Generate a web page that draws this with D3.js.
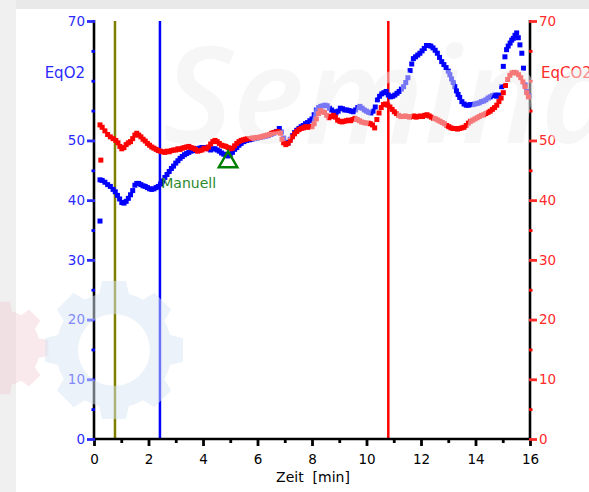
<!DOCTYPE html>
<html>
<head>
<meta charset="utf-8">
<script src="https://cdn.jsdelivr.net/npm/d3@7"></script>
<style>
  body { margin: 0; background: #fff; }
  svg { display: block; }
</style>
</head>
<body>
<svg id="chart" width="589" height="492"></svg>
<script>
// EqO2 readings: [time in min, value]
const eqO2 = [
  [0.22,36.5],
  [0.22,43.4],[0.30,43.3],[0.40,43.0],[0.50,42.6],[0.60,42.3],[0.70,41.8],[0.78,41.4],[0.86,40.8],[0.94,40.2],
  [1.02,39.6],[1.10,39.5],[1.18,39.8],[1.26,40.3],[1.34,40.9],[1.42,41.6],[1.50,42.5],[1.57,42.8],[1.64,42.8],
  [1.72,42.6],[1.80,42.4],[1.88,42.3],[1.96,42.1],[2.04,41.9],[2.12,41.8],[2.20,41.9],[2.28,42.1],[2.36,42.3],
  [2.44,42.7],[2.52,43.2],[2.60,43.8],[2.68,44.3],[2.76,44.8],[2.84,45.3],[2.92,45.7],[3.00,46.2],[3.08,46.6],
  [3.16,47.0],[3.24,47.3],[3.32,47.6],[3.40,47.8],[3.48,48.0],[3.56,48.2],[3.64,48.3],[3.72,48.5],[3.80,48.6],
  [3.88,48.7],[3.96,48.8],[4.04,48.8],[4.12,48.7],[4.20,48.6],[4.28,48.4],[4.36,48.6],[4.44,48.6],[4.52,48.4],
  [4.60,48.2],[4.68,47.9],[4.76,47.7],[4.84,47.5],[4.92,47.4],[5.00,47.6],[5.08,48.0],[5.16,48.5],[5.24,48.8],
  [5.32,49.2],[5.40,49.5],[5.50,49.8],[5.60,50.0],[5.70,50.1],[5.80,50.2],[5.90,50.3],[6.00,50.4],[6.10,50.5],
  [6.20,50.6],[6.30,50.7],[6.40,50.8],[6.50,51.0],[6.60,51.2],[6.70,51.5],[6.80,52.0],[6.88,51.4],[6.96,50.4],
  [7.04,49.7],[7.12,49.6],[7.20,50.2],[7.28,50.8],[7.36,51.3],[7.44,51.7],[7.52,52.0],[7.60,52.3],[7.68,52.5],
  [7.76,52.8],[7.84,53.0],[7.92,53.3],[8.00,53.6],[8.08,54.3],[8.16,55.1],[8.24,55.5],[8.32,55.7],[8.40,55.8],
  [8.48,55.9],[8.56,55.8],[8.64,55.4],[8.72,55.1],[8.80,54.8],[8.88,54.6],[8.96,54.9],[9.04,55.4],[9.12,55.3],
  [9.20,55.1],[9.28,55.1],[9.36,55.0],[9.44,54.9],[9.52,54.8],[9.60,55.1],[9.68,55.5],[9.76,55.7],[9.84,55.4],
  [9.92,55.1],[10.00,54.9],[10.08,54.7],[10.16,54.6],[10.24,54.9],[10.32,55.6],[10.40,56.8],[10.48,57.4],
  [10.56,57.8],[10.64,58.0],[10.72,58.2],[10.80,57.6],[10.88,57.3],[10.96,57.4],[11.04,57.6],[11.12,57.9],
  [11.20,58.2],[11.28,58.6],[11.36,59.0],[11.44,59.7],[11.52,60.5],[11.60,61.7],[11.66,62.8],[11.72,63.7],
  [11.80,64.0],[11.88,64.3],[11.96,64.6],[12.04,65.0],[12.12,65.4],[12.20,65.9],[12.28,65.9],[12.36,65.8],
  [12.44,65.5],[12.52,65.1],[12.60,64.6],[12.68,63.9],[12.76,63.2],[12.84,62.7],[12.92,62.2],[13.00,61.6],
  [13.06,61.0],[13.12,60.3],[13.18,59.7],[13.24,59.0],[13.30,58.3],[13.36,57.7],[13.42,57.2],[13.50,56.5],
  [13.58,56.1],[13.66,55.9],[13.74,55.9],[13.82,56.0],[13.90,56.0],[13.98,56.1],[14.06,56.2],[14.14,56.3],
  [14.22,56.5],[14.30,56.6],[14.38,56.8],[14.46,57.1],[14.54,57.3],[14.62,57.5],[14.70,57.6],[14.78,57.4],
  [14.86,57.6],[14.96,59.0],[15.02,62.4],[15.08,64.0],[15.14,65.2],[15.20,65.8],[15.27,66.3],[15.33,66.8],
  [15.39,67.1],[15.45,67.6],[15.51,68.0],[15.57,67.2],[15.63,66.0],[15.70,64.6],[15.76,62.1],[15.82,59.3],
  [15.88,58.2],[15.96,57.5]
];

// EqCO2 readings: [time in min, value]
const eqCO2 = [
  [0.25,46.7],
  [0.22,52.6],[0.30,52.2],[0.40,51.6],[0.50,51.0],[0.60,50.6],[0.70,50.3],[0.80,50.0],[0.88,49.6],[0.95,49.0],
  [1.02,48.6],[1.10,48.8],[1.18,49.3],[1.26,49.6],[1.34,49.8],[1.42,50.3],[1.50,50.9],[1.57,51.2],[1.64,50.9],
  [1.72,50.6],[1.80,50.2],[1.88,49.9],[1.96,49.5],[2.04,49.2],[2.12,48.9],[2.20,48.7],[2.28,48.5],[2.36,48.3],
  [2.44,48.2],[2.52,48.1],[2.60,48.0],[2.68,48.2],[2.76,48.1],[2.84,48.3],[2.92,48.4],[3.00,48.4],[3.08,48.6],
  [3.16,48.5],[3.24,48.7],[3.32,48.8],[3.40,48.9],[3.48,49.0],[3.56,48.8],[3.64,48.7],[3.72,48.5],[3.80,48.2],
  [3.88,48.3],[3.96,48.4],[4.04,48.7],[4.12,48.6],[4.20,48.9],[4.28,49.4],[4.36,49.8],[4.44,50.0],[4.52,49.8],
  [4.60,49.5],[4.68,49.2],[4.76,49.1],[4.84,49.0],[4.92,48.8],[5.00,48.6],[5.08,48.7],[5.16,49.1],[5.24,49.5],
  [5.32,49.8],[5.40,50.0],[5.48,50.1],[5.56,50.2],[5.64,50.3],[5.72,50.3],[5.80,50.4],[5.88,50.4],[5.96,50.5],
  [6.04,50.5],[6.12,50.6],[6.20,50.7],[6.28,50.8],[6.36,50.9],[6.44,51.0],[6.52,51.2],[6.60,51.3],[6.68,51.4],
  [6.76,51.5],[6.84,51.2],[6.90,50.2],[6.96,49.6],[7.04,49.3],[7.12,49.5],[7.20,50.0],[7.28,50.6],[7.36,51.1],
  [7.44,51.5],[7.52,51.8],[7.60,52.0],[7.68,52.1],[7.76,52.3],[7.84,52.2],[7.92,52.3],[8.00,52.3],[8.08,52.8],
  [8.16,53.6],[8.24,54.5],[8.30,55.0],[8.38,54.8],[8.46,54.7],[8.54,54.2],[8.62,53.8],[8.70,54.0],[8.78,54.2],
  [8.86,53.9],[8.94,53.4],[9.02,53.2],[9.10,53.1],[9.18,53.2],[9.26,53.3],[9.34,53.4],[9.42,53.3],[9.50,53.5],
  [9.58,53.7],[9.66,53.5],[9.74,53.3],[9.82,53.1],[9.90,53.0],[9.98,52.9],[10.06,52.9],[10.14,52.8],[10.22,52.6],
  [10.30,52.1],[10.38,53.5],[10.46,54.6],[10.54,55.5],[10.62,56.0],[10.70,56.1],[10.78,55.9],[10.86,55.6],
  [10.94,55.2],[11.02,54.8],[11.10,54.5],[11.18,54.2],[11.26,54.0],[11.34,54.0],[11.42,54.1],[11.50,54.0],
  [11.58,53.9],[11.66,54.0],[11.74,54.1],[11.82,53.9],[11.90,54.0],[11.98,54.1],[12.06,54.0],[12.14,54.2],
  [12.22,54.3],[12.30,54.1],[12.38,53.9],[12.46,53.7],[12.54,53.6],[12.62,53.4],[12.70,53.2],[12.78,53.0],
  [12.86,52.8],[12.94,52.5],[13.02,52.3],[13.10,52.1],[13.18,52.0],[13.26,52.0],[13.34,51.9],[13.42,52.0],
  [13.50,52.1],[13.58,52.2],[13.66,52.5],[13.74,52.9],[13.82,53.2],[13.90,53.4],[13.98,53.6],[14.06,53.8],
  [14.14,54.0],[14.22,54.2],[14.30,54.3],[14.38,54.5],[14.46,54.7],[14.54,54.9],[14.62,55.2],[14.70,55.5],
  [14.78,55.9],[14.86,56.5],[14.94,57.1],[15.02,58.0],[15.10,59.2],[15.18,60.2],[15.26,60.9],[15.34,61.3],
  [15.42,61.4],[15.50,61.3],[15.58,61.0],[15.66,60.5],[15.74,59.8],[15.82,59.0],[15.88,58.0],[15.94,57.3]
];

const xMajorTicks = [0, 2, 4, 6, 8, 10, 12, 14, 16];
const xMinorTicks = [1, 3, 5, 7, 9, 11, 13, 15];
const yMajorTicks = [0, 10, 20, 30, 40, 50, 70];
const yMinorTicks = [5, 15, 25, 35, 45, 55, 60, 65];

// phase markers (time in min)
const phaseTimes = [0.77, 2.42, 10.8];
const phaseColors = ["#808000", "#0000ff", "#ff0000"];

// manual event marker
const manualTime = 4.92;
const manualValue = 46.4;
const manualLabel = "Manuell";

const svg = d3.select("#chart");
const W = 589, H = 492;
const FONT = "'DejaVu Sans', Verdana, sans-serif";

const x = d3.scaleLinear().domain([0, 16]).range([94, 530]);
const y = d3.scaleLinear().domain([0, 70]).range([439, 21]);

// page background with light frame strips
svg.append("rect").attr("width", W).attr("height", H).attr("fill", "#ffffff");
svg.append("rect").attr("width", W).attr("height", 9).attr("fill", "#e9e9e9");
svg.append("rect").attr("width", 16).attr("height", H).attr("fill", "#f0f0f0");

// phase marker lines
svg.append("g").selectAll("line").data(phaseTimes).join("line")
  .attr("x1", d => x(d)).attr("x2", d => x(d))
  .attr("y1", y(70)).attr("y2", y(0))
  .attr("stroke", (d, i) => phaseColors[i])
  .attr("stroke-width", 2.5);

// axis frame lines
const frame = svg.append("g").attr("stroke", "#000").attr("stroke-width", 2.6);
frame.append("line").attr("x1", x(0)).attr("x2", x(0)).attr("y1", y(70) - 1).attr("y2", y(0) + 1);
frame.append("line").attr("x1", x(16)).attr("x2", x(16)).attr("y1", y(70) - 1).attr("y2", y(0) + 1);
frame.append("line").attr("x1", x(0) - 1).attr("x2", x(16) + 1).attr("y1", y(0)).attr("y2", y(0));

function styleAxis(g, color, size) {
  g.select(".domain").remove();
  g.selectAll(".tick line").attr("stroke", color).attr("stroke-width", 2.8);
  g.selectAll(".tick text").attr("fill", color)
    .attr("font-family", FONT).attr("font-size", size);
}

// x axis
svg.append("g").attr("transform", `translate(0,${y(0)})`)
  .call(d3.axisBottom(x).tickValues(xMinorTicks).tickSize(4).tickFormat(""))
  .call(g => styleAxis(g, "#000", 13.5));
svg.append("g").attr("transform", `translate(0,${y(0)})`)
  .call(d3.axisBottom(x).tickValues(xMajorTicks).tickSize(7).tickPadding(8).tickFormat(d3.format("d")))
  .call(g => styleAxis(g, "#000", 13.5));

// left axis (EqO2)
svg.append("g").attr("transform", `translate(${x(0) + 1},0)`)
  .call(d3.axisLeft(y).tickValues(yMinorTicks).tickSize(3.5).tickFormat(""))
  .call(g => styleAxis(g, "#0000ff", 13.5));
svg.append("g").attr("transform", `translate(${x(0) + 1},0)`)
  .call(d3.axisLeft(y).tickValues(yMajorTicks).tickSize(8).tickPadding(2).tickFormat(d3.format("d")))
  .call(g => styleAxis(g, "#2a2aff", 13.5));

// right axis (EqCO2)
svg.append("g").attr("transform", `translate(${x(16) - 1},0)`)
  .call(d3.axisRight(y).tickValues(yMinorTicks).tickSize(3.5).tickFormat(""))
  .call(g => styleAxis(g, "#ff0000", 13.5));
svg.append("g").attr("transform", `translate(${x(16) - 1},0)`)
  .call(d3.axisRight(y).tickValues(yMajorTicks).tickSize(8).tickPadding(2).tickFormat(d3.format("d")))
  .call(g => styleAxis(g, "#ff2a2a", 13.5));

// axis titles
svg.append("text").attr("x", 85).attr("y", 78).attr("text-anchor", "end")
  .attr("font-family", FONT).attr("font-size", 15).attr("fill", "#2a2aff").text("EqO2");
svg.append("text").attr("x", 541).attr("y", 78).attr("text-anchor", "start")
  .attr("font-family", FONT).attr("font-size", 15).attr("fill", "#ff2a2a").text("EqCO2");
svg.append("text").attr("x", (x(0) + x(16)) / 2 + 1).attr("y", 482).attr("text-anchor", "middle")
  .attr("font-family", FONT).attr("font-size", 14).attr("fill", "#000")
  .text("Zeit\u00a0 [min]");

// data points
const S = 5;
svg.append("g").selectAll("rect").data(eqO2).join("rect")
  .attr("x", d => x(d[0]) - S / 2).attr("y", d => y(d[1]) - S / 2)
  .attr("width", S).attr("height", S).attr("fill", "#0000ff");
svg.append("g").selectAll("rect").data(eqCO2).join("rect")
  .attr("x", d => x(d[0]) - S / 2).attr("y", d => y(d[1]) - S / 2)
  .attr("width", S).attr("height", S).attr("fill", "#ff0000");

// manual event marker
svg.append("path")
  .attr("d", d3.symbol(d3.symbolTriangle).size(150)())
  .attr("transform", `translate(${x(manualTime)},${y(manualValue)})`)
  .attr("fill", "none").attr("stroke", "#008000").attr("stroke-width", 2.4);
svg.append("text")
  .attr("x", x(manualTime) - 12).attr("y", y(manualValue) + 26)
  .attr("text-anchor", "end").attr("font-family", FONT).attr("font-size", 14)
  .attr("fill", "#2d8a2d").text(manualLabel);

// light watermark overlay: gears and lettering
function gearPath(cx, cy, rOut, rBody, teeth, rHole) {
  const p = d3.path();
  const step = 2 * Math.PI / teeth;
  const pt = (r, a) => [cx + r * Math.sin(a), cy - r * Math.cos(a)];
  for (let i = 0; i < teeth; i++) {
    const a = i * step;
    const seq = [
      [rBody, a - 0.26], [rOut, a - 0.17], [rOut, a + 0.17], [rBody, a + 0.26],
      [rBody, a + step / 2], [rBody, a + step - 0.3]
    ];
    seq.forEach(([r, ang], k) => {
      const [px, py] = pt(r, ang);
      if (i === 0 && k === 0) p.moveTo(px, py); else p.lineTo(px, py);
    });
  }
  p.closePath();
  if (rHole > 0) {
    p.moveTo(cx + rHole, cy);
    p.arc(cx, cy, rHole, 0, 2 * Math.PI);
    p.closePath();
  }
  return p.toString();
}
svg.append("path").attr("d", gearPath(2, 348, 47, 38, 8, 0))
  .attr("fill", "#f0c8d0").attr("opacity", 0.4);
svg.append("path").attr("d", gearPath(114, 350, 70, 58, 8, 36))
  .attr("fill-rule", "evenodd")
  .attr("fill", "#d8e6f4").attr("opacity", 0.5);

svg.append("text").attr("x", 163).attr("y", 143)
  .attr("font-family", "'Open Sans', sans-serif").attr("font-style", "italic")
  .attr("font-weight", 600).attr("font-size", 135)
  .attr("fill", "#eeeeee").attr("opacity", 0.5)
  .text("Seminar");
</script>
</body>
</html>
